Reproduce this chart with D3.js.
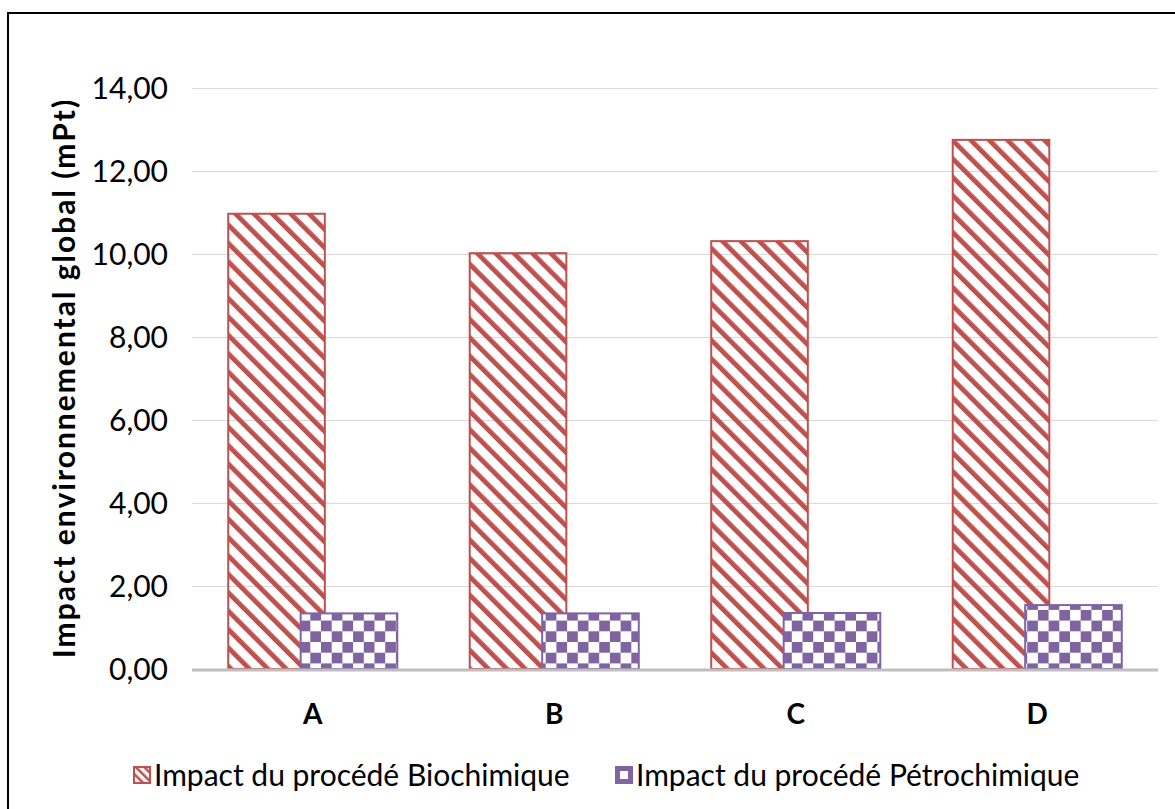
<!DOCTYPE html>
<html><head><meta charset="utf-8">
<script src="https://cdn.jsdelivr.net/npm/d3@7"></script>
<style>body{margin:0;background:#fff}svg{display:block}text{font-family:Lato,"Open Sans",sans-serif}</style>
</head><body><svg id="c" width="1175" height="809"></svg>
<script>
const categories = ["A","B","C","D"];
const bioValues = [10.97, 10.02, 10.31, 12.75];
const petroValues = [1.34, 1.34, 1.35, 1.54];
const yTicks = [0,2,4,6,8,10,12,14];
const seriesNames = ["Impact du procédé Biochimique","Impact du procédé Pétrochimique"];
const yTitle = "Impact environnemental global (mPt)";

const svg = d3.select("#c");
const W = 1175, H = 809;
const RED = "#c0504d", PURPLE = "#8064a2";

const defs = svg.append("defs");
const stripe = defs.append("pattern").attr("id","stripe").attr("patternUnits","userSpaceOnUse")
  .attr("width",13).attr("height",13).attr("patternTransform","rotate(-45)");
stripe.append("rect").attr("x",0).attr("y",0).attr("width",4.8).attr("height",13).attr("fill",RED);
const stripeS = defs.append("pattern").attr("id","stripeS").attr("patternUnits","userSpaceOnUse")
  .attr("width",6).attr("height",6).attr("patternTransform","rotate(-45)");
stripeS.append("rect").attr("x",0).attr("y",0).attr("width",2.5).attr("height",6).attr("fill",RED);
const check = defs.append("pattern").attr("id","check").attr("patternUnits","userSpaceOnUse")
  .attr("width",21.4).attr("height",21.4);
check.append("rect").attr("width",21.4).attr("height",21.4).attr("fill","#fff");
check.append("rect").attr("x",0).attr("y",0).attr("width",10.7).attr("height",10.7).attr("fill",PURPLE);
check.append("rect").attr("x",10.7).attr("y",10.7).attr("width",10.7).attr("height",10.7).attr("fill",PURPLE);

// frame
svg.append("rect").attr("x",8).attr("y",13).attr("width",W+20).attr("height",H+20)
  .attr("fill","none").attr("stroke","#000").attr("stroke-width",2);

const x = d3.scaleBand().domain(categories).range([192,1158]);
const y = d3.scaleLinear().domain([0,14]).range([669,88]);
const fmt = d3.formatLocale({decimal:",",thousands:" ",grouping:[3],currency:["","€"]}).format(".2f");

// gridlines
svg.append("g").selectAll("line").data(yTicks.filter(d=>d>0)).join("line")
  .attr("x1",x.range()[0]).attr("x2",x.range()[1])
  .attr("y1",d=>y(d)+0.5).attr("y2",d=>y(d)+0.5)
  .attr("stroke","#d9d9d9").attr("stroke-width",1);

// y labels
svg.append("g").selectAll("text").data(yTicks).join("text")
  .attr("x",168).attr("y",d=>y(d)).attr("dy","0.35em").attr("text-anchor","end")
  .attr("font-size",30).attr("fill","#000").text(d=>fmt(d));

const bw = x.bandwidth()*0.4, off = bw*0.75;
const g = svg.append("g");
categories.forEach((c,i)=>{
  const cx = x(c)+x.bandwidth()/2;
  const left = cx - (bw+off)/2;
  g.append("rect").attr("x",left).attr("y",y(bioValues[i])).attr("width",bw)
    .attr("height",y(0)-y(bioValues[i])).attr("fill","url(#stripe)").attr("stroke",RED).attr("stroke-width",2);
  g.append("rect").attr("x",left+off).attr("y",y(petroValues[i])).attr("width",bw)
    .attr("height",y(0)-y(petroValues[i])).attr("fill","url(#check)").attr("stroke",PURPLE).attr("stroke-width",2);
});

// axis line
svg.append("line").attr("x1",x.range()[0]).attr("x2",x.range()[1]).attr("y1",670).attr("y2",670)
  .attr("stroke","#bfbfbf").attr("stroke-width",3);

// category labels
svg.append("g").selectAll("text").data(categories).join("text")
  .attr("x",d=>x(d)+x.bandwidth()/2).attr("y",714).attr("dy","0.35em").attr("text-anchor","middle")
  .attr("font-size",28).attr("font-weight","bold").text(d=>d);

// y title
svg.append("text").attr("transform","translate(64,378) rotate(-90)").attr("text-anchor","middle")
  .attr("dy","0.35em").attr("font-size",30).attr("font-weight","bold").attr("letter-spacing",2)
  .text(yTitle);

// legend
const legX = [133, 615];
seriesNames.forEach((n,i)=>{
  const lg = svg.append("g").attr("transform",`translate(${legX[i]},766)`);
  if(i===0){
    lg.append("rect").attr("x",1).attr("y",1).attr("width",16).attr("height",16).attr("fill","url(#stripeS)").attr("stroke",RED).attr("stroke-width",2);
  } else {
    lg.append("rect").attr("x",1).attr("y",1).attr("width",16).attr("height",16).attr("fill",PURPLE).attr("stroke",PURPLE).attr("stroke-width",2);
    lg.append("rect").attr("x",5).attr("y",5).attr("width",8).attr("height",8).attr("fill","#fff");
  }
  lg.append("text").attr("x",21).attr("y",9).attr("dy","0.35em").attr("font-size",30).text(n);
});
</script></body></html>
